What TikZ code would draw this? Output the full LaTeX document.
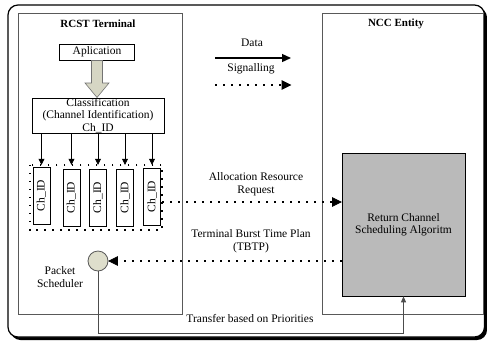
\documentclass[tikz,border=0pt]{standalone}
\usepackage{fontspec}
\setmainfont{Liberation Serif}
\usetikzlibrary{arrows.meta,calc}
\begin{document}
\begin{tikzpicture}[x=1pt,y=-1pt,
  font=\fontsize{11.5}{12.5}\selectfont,
  frame/.style={draw=black!65, line width=0.9pt},
  plainbox/.style={draw, line width=0.7pt, inner sep=1pt, align=center},
  chbox/.style={draw, line width=0.7pt, inner sep=0pt, rotate=90, minimum width=57pt, minimum height=17pt},
  sig/.style={line width=1.6pt, dash pattern=on 1.6pt off 6.4pt},
  tip/.style={-{Triangle[length=9pt,width=8pt]}},
  headtri/.style={draw=black, fill=black, line width=0.8pt, line join=miter},
  smalltip/.style={-{Triangle[length=6pt,width=6pt]}},
  lbl/.style={align=center, inner sep=0pt}
]
\useasboundingbox (0,0) rectangle (487,341);
% outer frame with shadow
\fill[black, rounded corners=10pt] (10.5,7.5) rectangle (487,340);
\draw[fill=white, line width=1.2pt, rounded corners=10pt] (8,5) rectangle (484.5,337);

% two entity frames
\draw[frame] (18,13) rectangle (182,314);
\draw[frame] (322,13) rectangle (483,314);
\node[lbl, font=\fontsize{11}{12}\selectfont\bfseries] (rcst) at (98,24) {RCST Terminal};
\node[lbl, font=\fontsize{11}{12}\selectfont\bfseries] (ncc) at (396,24) {NCC Entity};

% application
\node[plainbox, minimum width=75pt, minimum height=16pt] (app) at (97,52) {Aplication};
\node[plainbox, minimum width=132pt, minimum height=35pt, inner sep=0pt] (cls) at (98,115.5)
  {Classification\\(Channel Identification)\\Ch\_ID};
% block arrow
\draw[draw=black!55, fill={rgb,255:red,214;green,214;blue,196}, line width=0.6pt]
  (91.5,60.5) -- (102.5,60.5) -- (102.5,83) -- (109,83) -- (97,97.5) -- (85,83) -- (91.5,83) -- cycle;

% channel queues
\node[draw=none, minimum width=132pt, minimum height=65pt] (grp) at (96,197.5) {};
\node[chbox] (c1) at (41.5,195.5) {Ch\_ID};
\node[chbox] (c2) at (71.5,197.5) {Ch\_ID};
\node[chbox] (c3) at (98,197.5) {Ch\_ID};
\node[chbox] (c4) at (125,197.5) {Ch\_ID};
\node[chbox] (c5) at (152,196.5) {Ch\_ID};
\foreach \c in {c1,c2,c3,c4,c5}
  \draw[smalltip, line width=0.7pt] (cls.south -| \c.center) -- (grp.north -| \c.center);

% NCC algorithm
\node[draw, fill=black!27, line width=0.7pt, minimum width=123pt, minimum height=143pt, align=center] (alg)
  at (403.5,224.5) {Return Channel\\Scheduling Algoritm};

% packet scheduler
\node[circle, draw=black!65, fill={rgb,255:red,222;green,222;blue,204}, line width=0.8pt, minimum size=20pt, inner sep=0pt] (sched) at (98,261) {};
\node[lbl] (schedlbl) at (60,277) {Packet\\Scheduler};

% coordinates for connectors
\coordinate (d1) at (215,58); \coordinate (d2) at (291,58);
\coordinate (s1) at (215,85); \coordinate (s2) at (291,85);
\coordinate (a1) at (grp.east |- 0,202);
\coordinate (a2) at (alg.west |- 0,202);
\coordinate (t1) at (alg.west |- sched);
\coordinate (t2) at (sched.east);

% legend
\draw[tip, line width=1.3pt] (d1) -- (d2);
\draw[sig] (s1) -- ($(s2)+(-9,0)$);
\draw[headtri] (290.5,85) -- (282,80.8) -- (282,89.2) -- cycle;
\node[lbl] (datal) at (252,43) {Data};
\node[lbl] (sigl) at (251,69) {Signalling};

% allocation request
\draw[sig] (a1) -- ($(a2)+(-9,0)$);
\draw[headtri] (341,202) -- (332.5,197.8) -- (332.5,206.2) -- cycle;
\node[lbl] (alloc) at (256,184) {Allocation Resource\\Request};

% TBTP
\draw[sig] (t1) -- ($(t2)+(9,0)$);
\draw[headtri] (109,261) -- (117.5,256.8) -- (117.5,265.2) -- cycle;
\node[lbl] (tbtp) at (251,241) {Terminal Burst Time Plan\\(TBTP)};

% queue group border
\draw[sig] (grp.north west) rectangle (grp.south east);

% transfer
\draw[black!70, line width=0.9pt, -{Triangle[length=6pt,width=5pt]}] (sched.south) -- (sched.south |- 0,333) -| (alg.south);
\node[lbl] (trans) at (250,318) {Transfer based on Priorities};
\end{tikzpicture}
\end{document}
